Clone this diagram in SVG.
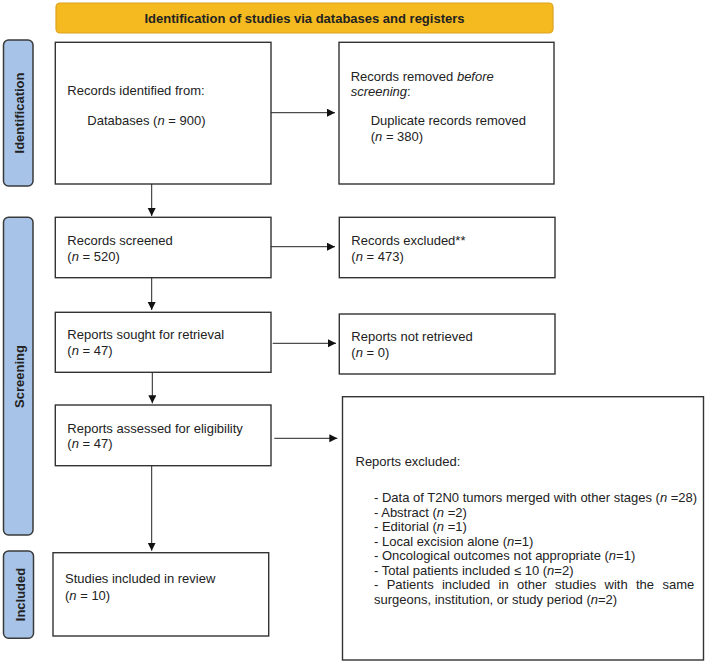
<svg xmlns="http://www.w3.org/2000/svg" width="709" height="664" viewBox="0 0 709 664">
<style>
text{font-family:"Liberation Sans",Arial,sans-serif;font-size:13px;fill:#222}
.b{font-weight:bold}
.i{font-style:italic}
.box{fill:#fff;stroke:#333;stroke-width:1.4}
.side{fill:#A7C4E8;stroke:#3a3a3a;stroke-width:1.5}
.hdr{fill:#F5BA1F;stroke:#DCA21E;stroke-width:1.2}
.c{stroke:#222;stroke-width:1;fill:none}
</style>
<defs>
<marker id="ah" markerUnits="userSpaceOnUse" markerWidth="9" markerHeight="9" refX="8" refY="4" orient="auto">
<path d="M0,0 L8,4 L0,8 z" fill="#111"/>
</marker>
</defs>
<rect width="709" height="664" fill="#fff"/>

<g id="header">
<rect class="hdr" x="56" y="3" width="497" height="30" rx="4"/>
<text class="b" x="304.5" y="22.7" text-anchor="middle">Identification of studies via databases and registers</text>
</g>

<g id="side-identification">
<rect class="side" x="3.5" y="40" width="29.5" height="146" rx="5"/>
<text class="b" transform="translate(24,113) rotate(-90)" text-anchor="middle">Identification</text>
</g>
<g id="side-screening">
<rect class="side" x="3.5" y="217.3" width="29.5" height="317.7" rx="5"/>
<text class="b" transform="translate(24,376.5) rotate(-90)" text-anchor="middle">Screening</text>
</g>
<g id="side-included">
<rect class="side" x="3.5" y="551" width="30" height="87.3" rx="5"/>
<text class="b" transform="translate(24.5,594.5) rotate(-90)" text-anchor="middle">Included</text>
</g>

<g id="records-identified">
<rect class="box" x="55.3" y="42.3" width="215.7" height="141.7"/>
<text x="67.3" y="95">Records identified from:</text>
<text x="87.3" y="125">Databases (<tspan class="i">n</tspan> = 900)</text>
</g>
<g id="records-removed">
<rect class="box" x="339" y="42.3" width="215" height="141.7"/>
<text x="350.7" y="80.7">Records removed <tspan class="i">before</tspan></text>
<text x="350.7" y="95.7"><tspan class="i">screening</tspan>:</text>
<text x="370.7" y="125">Duplicate records removed</text>
<text x="370.7" y="140.5">(<tspan class="i">n</tspan> = 380)</text>
</g>
<g id="records-screened">
<rect class="box" x="55.3" y="217.3" width="215.7" height="60.4"/>
<text x="67.3" y="245">Records screened</text>
<text x="67.3" y="260.5">(<tspan class="i">n</tspan> = 520)</text>
</g>
<g id="records-excluded">
<rect class="box" x="339.3" y="217.3" width="215.7" height="60.4"/>
<text x="351.3" y="245">Records excluded**</text>
<text x="351.3" y="260.5">(<tspan class="i">n</tspan> = 473)</text>
</g>
<g id="reports-sought">
<rect class="box" x="55.3" y="312.3" width="215.7" height="60"/>
<text x="67.3" y="339.3">Reports sought for retrieval</text>
<text x="67.3" y="355">(<tspan class="i">n</tspan> = 47)</text>
</g>
<g id="reports-not-retrieved">
<rect class="box" x="339.3" y="314" width="215.7" height="60"/>
<text x="351.3" y="341">Reports not retrieved</text>
<text x="351.3" y="356.5">(<tspan class="i">n</tspan> = 0)</text>
</g>
<g id="reports-assessed">
<rect class="box" x="55.3" y="405" width="215.7" height="60.7"/>
<text x="67.3" y="433.3">Reports assessed for eligibility</text>
<text x="67.3" y="448.3">(<tspan class="i">n</tspan> = 47)</text>
</g>
<g id="reports-excluded">
<rect class="box" x="342.5" y="396.7" width="361" height="263.3"/>
<text x="355.5" y="466">Reports excluded:</text>
<text x="374" y="502">- Data of T2N0 tumors merged with other stages (<tspan class="i">n</tspan> =28)</text>
<text x="374" y="516.5">- Abstract (<tspan class="i">n</tspan> =2)</text>
<text x="374" y="531">- Editorial (<tspan class="i">n</tspan> =1)</text>
<text x="374" y="545.5">- Local excision alone (<tspan class="i">n</tspan>=1)</text>
<text x="374" y="560">- Oncological outcomes not appropriate (<tspan class="i">n</tspan>=1)</text>
<text x="374" y="574.5">- Total patients included ≤ 10 (<tspan class="i">n</tspan>=2)</text>
<text y="589"><tspan x="374">-</tspan><tspan x="386.7">Patients</tspan><tspan x="441.9">included</tspan><tspan x="498.6">in</tspan><tspan x="517">other</tspan><tspan x="555">studies</tspan><tspan x="604.5">with</tspan><tspan x="636">the</tspan><tspan x="662.5">same</tspan></text>
<text x="374" y="603.5">surgeons, institution, or study period (<tspan class="i">n</tspan>=2)</text>
</g>
<g id="studies-included">
<rect class="box" x="53" y="552.7" width="215.7" height="83.3"/>
<text x="65" y="583.3">Studies included in review</text>
<text x="65" y="600">(<tspan class="i">n</tspan> = 10)</text>
</g>

<g id="connectors">
<line class="c" x1="271" y1="112.7" x2="335" y2="112.7" marker-end="url(#ah)"/>
<line class="c" x1="271" y1="246.7" x2="335" y2="246.7" marker-end="url(#ah)"/>
<line class="c" x1="272.7" y1="343.3" x2="336" y2="343.3" marker-end="url(#ah)"/>
<line class="c" x1="274.3" y1="438.3" x2="337.3" y2="438.3" marker-end="url(#ah)"/>
<line class="c" x1="151.7" y1="184" x2="151.7" y2="216" marker-end="url(#ah)"/>
<line class="c" x1="151.7" y1="277.7" x2="151.7" y2="310" marker-end="url(#ah)"/>
<line class="c" x1="152.3" y1="372.3" x2="152.3" y2="403.3" marker-end="url(#ah)"/>
<line class="c" x1="151.7" y1="465.7" x2="151.7" y2="550.7" marker-end="url(#ah)"/>
</g>
</svg>
